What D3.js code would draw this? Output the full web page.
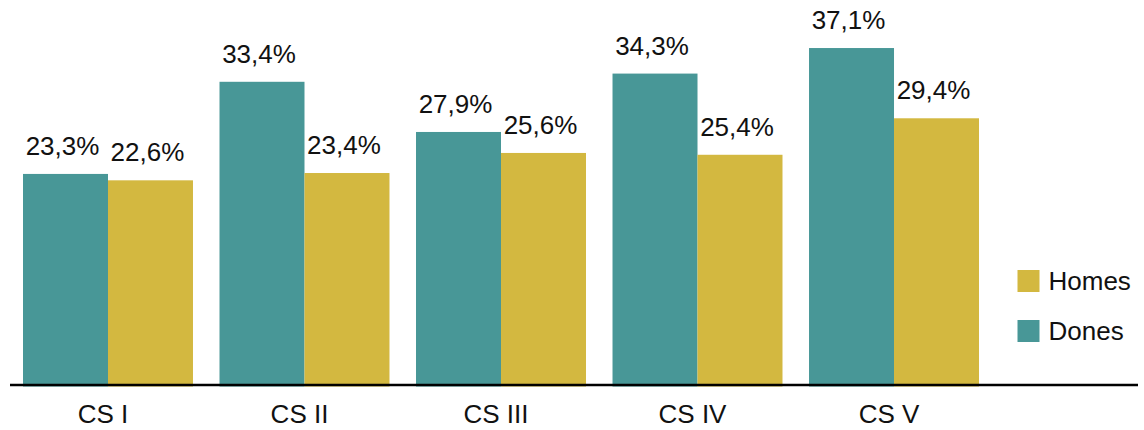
<!DOCTYPE html>
<html>
<head>
<meta charset="utf-8">
<script src="https://cdn.jsdelivr.net/npm/d3@7"></script>
<style>
  html, body { margin: 0; padding: 0; background: #fff; }
  svg { display: block; font-family: "Liberation Sans", Arial, Helvetica, sans-serif; }
</style>
</head>
<body>
<svg id="chart" width="1144" height="430"></svg>
<script>
const categories = ["CS I", "CS II", "CS III", "CS IV", "CS V"];
const seriesNames = ["Dones", "Homes"];
const dones = [23.3, 33.4, 27.9, 34.3, 37.1];
const homes = [22.6, 23.4, 25.6, 25.4, 29.4];
const legendOrder = ["Homes", "Dones"];

const colors = { Dones: "#489797", Homes: "#d3b840" };
const values = { Dones: dones, Homes: homes };

const svg = d3.select("#chart");
const baseY = 386.5;
const fs = 26;

const x0 = d3.scaleBand().domain(categories).range([23, 979]).paddingInner(0.135).paddingOuter(0);
const x1 = d3.scaleBand().domain(seriesNames).range([0, x0.bandwidth()]).padding(0);
const y = d3.scaleLinear().domain([0, 40]).range([baseY, baseY - 9.123 * 40]);

const fmt = v => d3.format(".1f")(v).replace(".", ",") + "%";

const rows = [];
categories.forEach((c, i) => seriesNames.forEach(s => rows.push({ c, s, v: values[s][i] })));

const g = svg.append("g");
g.selectAll("rect.bar").data(rows).join("rect")
  .attr("class", "bar")
  .attr("x", d => x0(d.c) + x1(d.s))
  .attr("y", d => y(d.v))
  .attr("width", x1.bandwidth())
  .attr("height", d => baseY - y(d.v))
  .attr("fill", d => colors[d.s]);

g.selectAll("text.val").data(rows).join("text")
  .attr("class", "val")
  .attr("x", d => x0(d.c) + x1(d.s) + x1.bandwidth() / 2 - 3)
  .attr("y", d => y(d.v) - 19)
  .attr("text-anchor", "middle")
  .attr("font-size", fs)
  .attr("fill", "#111")
  .text(d => fmt(d.v));

// x axis
const xAxis = d3.axisBottom(x0).tickSize(0).tickPadding(20);
const ax = svg.append("g").attr("transform", `translate(0,${baseY - 1.5})`).call(xAxis);
ax.select(".domain").remove();
ax.selectAll(".tick text")
  .attr("font-size", fs)
  .attr("font-family", "Liberation Sans, Arial, sans-serif")
  .attr("fill", "#111")
  .attr("dx", -5);

svg.append("line")
  .attr("x1", 10).attr("x2", 1138)
  .attr("y1", baseY - 1.5).attr("y2", baseY - 1.5)
  .attr("stroke", "#000").attr("stroke-width", 2.5);

// legend
const lg = svg.append("g").selectAll("g").data(legendOrder).join("g")
  .attr("transform", (d, i) => `translate(1017.5,${270 + i * 50})`);
lg.append("rect").attr("width", 22).attr("height", 22).attr("fill", d => colors[d]);
lg.append("text").attr("x", 31).attr("y", 20).attr("font-size", fs).attr("fill", "#111").text(d => d);
</script>
</body>
</html>
